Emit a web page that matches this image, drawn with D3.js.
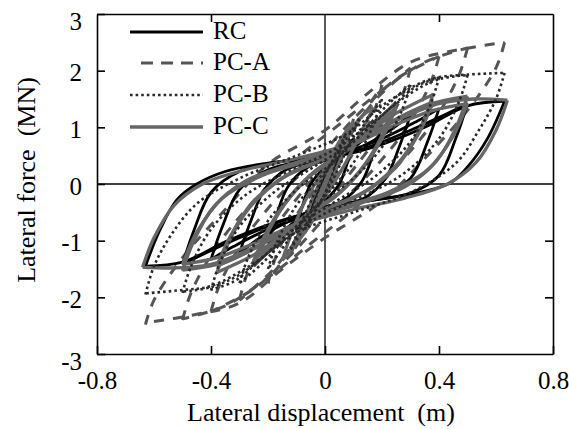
<!DOCTYPE html>
<html>
<head>
<meta charset="utf-8">
<script src="https://cdn.jsdelivr.net/npm/d3@7"></script>
<style>
  body { margin: 0; background: #fff; }
</style>
</head>
<body>
<svg id="chart" width="569" height="429"></svg>
<script>
// ----------- DATA ------------
// each branch is a list of [displacement (m), force (MN)] points
// "up" = reloading from negative peak to positive peak, "down" = unloading back
const rcUp = [
  [[-0.05,-0.5],[-0.03,-0.2],[0,0.1],[0.03,0.32],[0.05,0.5]],
  [[-0.1,-0.8],[-0.08,-0.4],[-0.05,0],[0,0.3],[0.05,0.52],[0.1,0.8]],
  [[-0.2,-1.05],[-0.17,-0.55],[-0.13,-0.05],[-0.06,0.3],[0.04,0.48],[0.12,0.72],[0.2,1.05]],
  [[-0.3,-1.22],[-0.26,-0.65],[-0.21,-0.08],[-0.13,0.27],[0,0.44],[0.12,0.64],[0.22,0.92],[0.3,1.22]],
  [[-0.4,-1.33],[-0.36,-0.75],[-0.3,-0.1],[-0.2,0.25],[-0.07,0.42],[0.06,0.55],[0.2,0.8],[0.32,1.1],[0.4,1.33]],
  [[-0.5,-1.42],[-0.46,-0.82],[-0.4,-0.15],[-0.3,0.22],[-0.15,0.4],[0,0.48],[0.15,0.65],[0.3,0.95],[0.42,1.22],[0.5,1.42]],
  [[-0.63,-1.45],[-0.58,-0.82],[-0.52,-0.28],[-0.45,0],[-0.35,0.22],[-0.2,0.37],[-0.08,0.43],[0.05,0.5],[0.2,0.7],[0.35,1.0],[0.5,1.38],[0.63,1.46]]
];
const rcDown = [
  [[0.05,0.5],[0.03,0.2],[0,-0.1],[-0.03,-0.32],[-0.05,-0.5]],
  [[0.1,0.8],[0.08,0.4],[0.05,0],[0,-0.3],[-0.05,-0.52],[-0.1,-0.8]],
  [[0.2,1.05],[0.17,0.55],[0.13,0.05],[0.06,-0.3],[-0.04,-0.48],[-0.12,-0.72],[-0.2,-1.05]],
  [[0.3,1.22],[0.26,0.65],[0.21,0.08],[0.13,-0.27],[0,-0.4],[-0.12,-0.64],[-0.22,-0.92],[-0.3,-1.22]],
  [[0.4,1.33],[0.36,0.75],[0.3,0.1],[0.2,-0.2],[0.07,-0.36],[-0.06,-0.55],[-0.2,-0.8],[-0.32,-1.1],[-0.4,-1.33]],
  [[0.5,1.42],[0.46,0.82],[0.4,0.15],[0.3,-0.16],[0.15,-0.3],[0,-0.42],[-0.15,-0.65],[-0.3,-0.95],[-0.42,-1.22],[-0.5,-1.42]],
  [[0.63,1.46],[0.57,0.8],[0.5,0.3],[0.44,0.02],[0.34,-0.14],[0.2,-0.26],[0.08,-0.36],[-0.05,-0.5],[-0.2,-0.72],[-0.35,-1.02],[-0.5,-1.38],[-0.63,-1.45]]
];

const pcaUp = [
  [[-0.06,-0.75],[-0.03,-0.3],[0,0.1],[0.03,0.45],[0.06,0.75]],
  [[-0.12,-1.25],[-0.08,-0.7],[-0.03,-0.1],[0.03,0.5],[0.1,1.15]],
  [[-0.2,-1.75],[-0.17,-1.25],[-0.1,-0.55],[0,0.15],[0.1,0.95],[0.2,1.75]],
  [[-0.3,-2.05],[-0.27,-1.55],[-0.18,-0.8],[-0.05,0.05],[0.08,0.85],[0.18,1.5],[0.3,2.05]],
  [[-0.4,-2.25],[-0.37,-1.78],[-0.28,-0.95],[-0.15,-0.15],[0,0.6],[0.12,1.25],[0.25,1.85],[0.4,2.25]],
  [[-0.5,-2.4],[-0.47,-1.92],[-0.38,-1.1],[-0.25,-0.3],[-0.1,0.45],[0.05,1.05],[0.2,1.65],[0.35,2.15],[0.5,2.4]],
  [[-0.63,-2.48],[-0.6,-2.05],[-0.5,-1.3],[-0.35,-0.45],[-0.2,0.35],[0,0.95],[0.15,1.6],[0.3,2.15],[0.45,2.35],[0.63,2.5]]
];
const pcaDown = [
  [[0.06,0.75],[0.03,0.3],[0,-0.1],[-0.03,-0.45],[-0.06,-0.75]],
  [[0.1,1.15],[0.07,0.6],[0.02,0.0],[-0.04,-0.6],[-0.12,-1.25]],
  [[0.2,1.75],[0.17,1.25],[0.1,0.55],[0,-0.15],[-0.1,-0.95],[-0.2,-1.75]],
  [[0.3,2.05],[0.27,1.55],[0.18,0.8],[0.05,-0.05],[-0.08,-0.85],[-0.18,-1.5],[-0.3,-2.05]],
  [[0.4,2.25],[0.37,1.78],[0.28,0.95],[0.15,0.15],[0,-0.6],[-0.12,-1.25],[-0.25,-1.85],[-0.4,-2.25]],
  [[0.5,2.4],[0.47,1.92],[0.38,1.1],[0.25,0.3],[0.1,-0.45],[-0.05,-1.05],[-0.2,-1.65],[-0.35,-2.15],[-0.5,-2.38]],
  [[0.63,2.5],[0.6,2.05],[0.5,1.3],[0.35,0.45],[0.2,-0.3],[0,-0.95],[-0.15,-1.5],[-0.3,-2.1],[-0.45,-2.3],[-0.63,-2.45]]
];

const pcbUp = [
  [[-0.07,-0.8],[-0.04,-0.35],[-0.01,0.05],[0.03,0.45],[0.07,0.85]],
  [[-0.12,-1.15],[-0.08,-0.65],[-0.03,-0.1],[0.02,0.35],[0.07,0.75],[0.12,1.15]],
  [[-0.2,-1.5],[-0.17,-1.05],[-0.11,-0.45],[-0.03,0.05],[0.06,0.55],[0.13,1.0],[0.2,1.5]],
  [[-0.3,-1.75],[-0.27,-1.3],[-0.2,-0.65],[-0.1,-0.1],[0.02,0.35],[0.12,0.85],[0.22,1.4],[0.3,1.75]],
  [[-0.4,-1.88],[-0.37,-1.4],[-0.3,-0.75],[-0.18,-0.15],[-0.04,0.3],[0.1,0.75],[0.22,1.3],[0.32,1.72],[0.4,1.88]],
  [[-0.5,-1.92],[-0.47,-1.45],[-0.4,-0.8],[-0.28,-0.2],[-0.12,0.25],[0.03,0.6],[0.17,1.1],[0.3,1.6],[0.4,1.85],[0.5,1.92]],
  [[-0.63,-1.95],[-0.6,-1.45],[-0.54,-0.9],[-0.45,-0.35],[-0.3,0.1],[-0.1,0.5],[0.08,0.9],[0.22,1.45],[0.37,1.85],[0.5,1.93],[0.63,1.96]]
];
const pcbDown = [
  [[0.07,0.85],[0.04,0.4],[0.01,-0.05],[-0.03,-0.45],[-0.07,-0.8]],
  [[0.12,1.15],[0.08,0.65],[0.03,0.1],[-0.02,-0.35],[-0.07,-0.75],[-0.12,-1.15]],
  [[0.2,1.5],[0.17,1.05],[0.11,0.45],[0.03,-0.05],[-0.06,-0.55],[-0.13,-1.0],[-0.2,-1.5]],
  [[0.3,1.75],[0.27,1.3],[0.2,0.65],[0.1,0.1],[-0.02,-0.35],[-0.12,-0.85],[-0.22,-1.4],[-0.3,-1.75]],
  [[0.4,1.88],[0.37,1.4],[0.3,0.75],[0.18,0.15],[0.04,-0.3],[-0.1,-0.75],[-0.22,-1.3],[-0.32,-1.72],[-0.4,-1.86]],
  [[0.5,1.92],[0.47,1.45],[0.4,0.8],[0.28,0.2],[0.12,-0.25],[-0.03,-0.6],[-0.17,-1.1],[-0.3,-1.6],[-0.4,-1.82],[-0.5,-1.9]],
  [[0.63,1.96],[0.6,1.5],[0.54,0.95],[0.46,0.37],[0.3,-0.15],[0.1,-0.5],[-0.1,-0.85],[-0.25,-1.4],[-0.4,-1.8],[-0.5,-1.87],[-0.63,-1.93]]
];

const pccUp = [
  [[-0.06,-0.7],[-0.03,-0.3],[0,0.05],[0.03,0.4],[0.06,0.75]],
  [[-0.1,-1.05],[-0.07,-0.6],[-0.03,-0.1],[0.01,0.35],[0.05,0.75],[0.1,1.1]],
  [[-0.15,-1.35],[-0.12,-0.9],[-0.07,-0.3],[-0.01,0.2],[0.06,0.75],[0.13,1.2],[0.17,1.35]],
  [[-0.25,-1.45],[-0.21,-0.95],[-0.14,-0.35],[-0.05,0.15],[0.05,0.5],[0.15,0.95],[0.25,1.45]],
  [[-0.38,-1.58],[-0.34,-1.05],[-0.27,-0.45],[-0.15,0.1],[0,0.45],[0.12,0.8],[0.25,1.25],[0.38,1.58]],
  [[-0.5,-1.53],[-0.46,-1.0],[-0.39,-0.4],[-0.28,0.05],[-0.12,0.35],[0.05,0.62],[0.2,1.0],[0.35,1.38],[0.5,1.55]],
  [[-0.64,-1.47],[-0.6,-0.95],[-0.53,-0.38],[-0.43,0],[-0.28,0.25],[-0.1,0.45],[0.08,0.7],[0.25,1.12],[0.4,1.42],[0.52,1.5],[0.64,1.48]],
  // repeated cycles with a little strength loss
  [[-0.25,-1.35],[-0.2,-0.8],[-0.12,-0.2],[-0.03,0.25],[0.08,0.6],[0.17,1.0],[0.25,1.35]],
  [[-0.38,-1.45],[-0.33,-0.9],[-0.25,-0.3],[-0.12,0.2],[0.03,0.5],[0.15,0.85],[0.27,1.2],[0.38,1.45]],
  [[-0.5,-1.42],[-0.45,-0.85],[-0.36,-0.25],[-0.22,0.15],[-0.05,0.42],[0.1,0.7],[0.25,1.05],[0.38,1.3],[0.5,1.42]]
];
const pccDown = [
  [[0.06,0.75],[0.03,0.35],[0,-0.05],[-0.03,-0.4],[-0.06,-0.7]],
  [[0.1,1.1],[0.07,0.65],[0.03,0.15],[-0.01,-0.3],[-0.05,-0.7],[-0.1,-1.05]],
  [[0.17,1.35],[0.13,0.95],[0.07,0.35],[0.01,-0.15],[-0.06,-0.7],[-0.11,-1.1],[-0.15,-1.35]],
  [[0.25,1.45],[0.21,0.95],[0.14,0.35],[0.05,-0.15],[-0.05,-0.5],[-0.15,-0.95],[-0.25,-1.45]],
  [[0.38,1.6],[0.34,1.05],[0.27,0.45],[0.15,-0.1],[0,-0.45],[-0.12,-0.8],[-0.25,-1.25],[-0.38,-1.56]],
  [[0.5,1.55],[0.46,1.0],[0.39,0.4],[0.28,-0.05],[0.12,-0.35],[-0.05,-0.62],[-0.2,-1.0],[-0.35,-1.38],[-0.5,-1.52]],
  [[0.64,1.48],[0.6,0.95],[0.53,0.38],[0.43,0],[0.28,-0.25],[0.1,-0.45],[-0.08,-0.7],[-0.25,-1.12],[-0.4,-1.42],[-0.52,-1.48],[-0.64,-1.47]],
  [[0.25,1.35],[0.2,0.8],[0.12,0.2],[0.03,-0.25],[-0.08,-0.6],[-0.17,-1.0],[-0.25,-1.35]],
  [[0.38,1.45],[0.33,0.9],[0.25,0.3],[0.12,-0.2],[-0.03,-0.5],[-0.15,-0.85],[-0.27,-1.2],[-0.38,-1.45]],
  [[0.5,1.42],[0.45,0.85],[0.36,0.25],[0.22,-0.15],[0.05,-0.42],[-0.1,-0.7],[-0.25,-1.05],[-0.38,-1.3],[-0.5,-1.42]]
];

const seriesNames = ["RC", "PC-A", "PC-B", "PC-C"];
const xTicks = [-0.8, -0.4, 0, 0.4, 0.8];
const xTickLabels = ["-0.8", "-0.4", "0", "0.4", "0.8"];
const yTicks = [-3, -2, -1, 0, 1, 2, 3];
const yTickLabels = ["-3", "-2", "-1", "0", "1", "2", "3"];

// ----------- LAYOUT ------------
const FONT = "'Liberation Serif', 'Times New Roman', 'DejaVu Serif', serif";
const FONT_SIZE = 25;
const margin = { left: 97, right: 16, top: 14, bottom: 75 };
const W = 569, H = 429;
const svg = d3.select("#chart");

const x = d3.scaleLinear().domain([-0.8, 0.8]).range([margin.left, W - margin.right]);
const y = d3.scaleLinear().domain([-3, 3]).range([H - margin.bottom, margin.top]);

// line styles per series
const styles = {
  "RC":   { color: "#000000", width: 2.8, dash: null },
  "PC-A": { color: "#555555", width: 3, dash: "10,9" },
  "PC-B": { color: "#2a2a2a", width: 2.6, dash: "2.6,3" },
  "PC-C": { color: "#666666", width: 3.3, dash: null }
};

svg.append("defs").append("clipPath").attr("id", "plot-clip")
  .append("rect")
  .attr("x", x(-0.8)).attr("y", y(3))
  .attr("width", x(0.8) - x(-0.8)).attr("height", y(-3) - y(3));

// zero lines
svg.append("line")
  .attr("x1", x(0)).attr("x2", x(0)).attr("y1", y(3)).attr("y2", y(-3))
  .attr("stroke", "#000").attr("stroke-width", 1.3);
svg.append("line")
  .attr("x1", x(-0.8)).attr("x2", x(0.8)).attr("y1", y(0)).attr("y2", y(0))
  .attr("stroke", "#000").attr("stroke-width", 1.3);

// ----------- CURVES ------------
const line = d3.line()
  .x(d => x(d[0]))
  .y(d => y(d[1]))
  .curve(d3.curveCatmullRom.alpha(0.5));

const plot = svg.append("g").attr("clip-path", "url(#plot-clip)");

const drawSeries = (name, branches) => {
  const st = styles[name];
  plot.append("g")
    .selectAll("path")
    .data(branches)
    .join("path")
    .attr("d", line)
    .attr("fill", "none")
    .attr("stroke", st.color)
    .attr("stroke-width", st.width)
    .attr("stroke-dasharray", st.dash)
    .attr("stroke-linejoin", "round");
}

drawSeries("PC-A", pcaUp.concat(pcaDown));
drawSeries("RC", rcUp.concat(rcDown));
drawSeries("PC-C", pccUp.concat(pccDown));
drawSeries("PC-B", pcbUp.concat(pcbDown));

// ----------- AXES ------------
const styleAxis = (g) => {
  g.attr("font-family", FONT);
  g.select(".domain").attr("stroke", "#000").attr("stroke-width", 1.6);
  g.selectAll(".tick line").attr("stroke", "#000").attr("stroke-width", 1.6);
  g.selectAll(".tick text").attr("font-size", FONT_SIZE).attr("font-family", FONT).attr("fill", "#000");
}

svg.append("g")
  .attr("transform", `translate(${x(-0.8)},0)`)
  .call(d3.axisLeft(y).tickValues(yTicks).tickFormat((d, i) => yTickLabels[i]).tickSize(-8).tickSizeOuter(0).tickPadding(15))
  .call(styleAxis)
  .call(g => g.selectAll(".tick text").attr("dy", d => Math.abs(d) === 3 ? "0.62em" : "0.4em"));

svg.append("g")
  .attr("transform", `translate(${x(0.8)},0)`)
  .call(d3.axisRight(y).tickValues([-2, -1, 1, 2]).tickFormat("").tickSize(-8).tickSizeOuter(0))
  .call(styleAxis);

svg.append("g")
  .attr("transform", `translate(0,${y(-3)})`)
  .call(d3.axisBottom(x).tickValues(xTicks).tickFormat((d, i) => xTickLabels[i]).tickSize(-8).tickSizeOuter(0).tickPadding(17))
  .call(styleAxis);

svg.append("g")
  .attr("transform", `translate(0,${y(3)})`)
  .call(d3.axisTop(x).tickValues([-0.4, 0.4]).tickFormat("").tickSize(-8).tickSizeOuter(0))
  .call(styleAxis);

// axis titles
svg.append("text")
  .attr("x", 321)
  .attr("y", 421)
  .attr("text-anchor", "middle")
  .attr("font-family", FONT)
  .attr("font-size", 26)
  .text("Lateral displacement\u00a0\u00a0(m)");

svg.append("text")
  .attr("transform", `translate(35,180) rotate(-90)`)
  .attr("text-anchor", "middle")
  .attr("font-family", FONT)
  .attr("font-size", 26)
  .text("Lateral force\u00a0\u00a0(MN)");

// ----------- LEGEND ------------
const legendY = [32, 63, 95, 127];
const legend = svg.append("g");
seriesNames.forEach((name, i) => {
  const st = styles[name];
  legend.append("line")
    .attr("x1", name === "PC-A" ? 141 : 130)
    .attr("x2", 203)
    .attr("y1", legendY[i]).attr("y2", legendY[i])
    .attr("stroke", st.color)
    .attr("stroke-width", st.width)
    .attr("stroke-dasharray", name === "PC-A" ? "12,8" : st.dash);
  legend.append("text")
    .attr("x", 213)
    .attr("y", legendY[i] + 7)
    .attr("font-family", FONT)
    .attr("font-size", FONT_SIZE)
    .text(name);
});
</script>
</body>
</html>
